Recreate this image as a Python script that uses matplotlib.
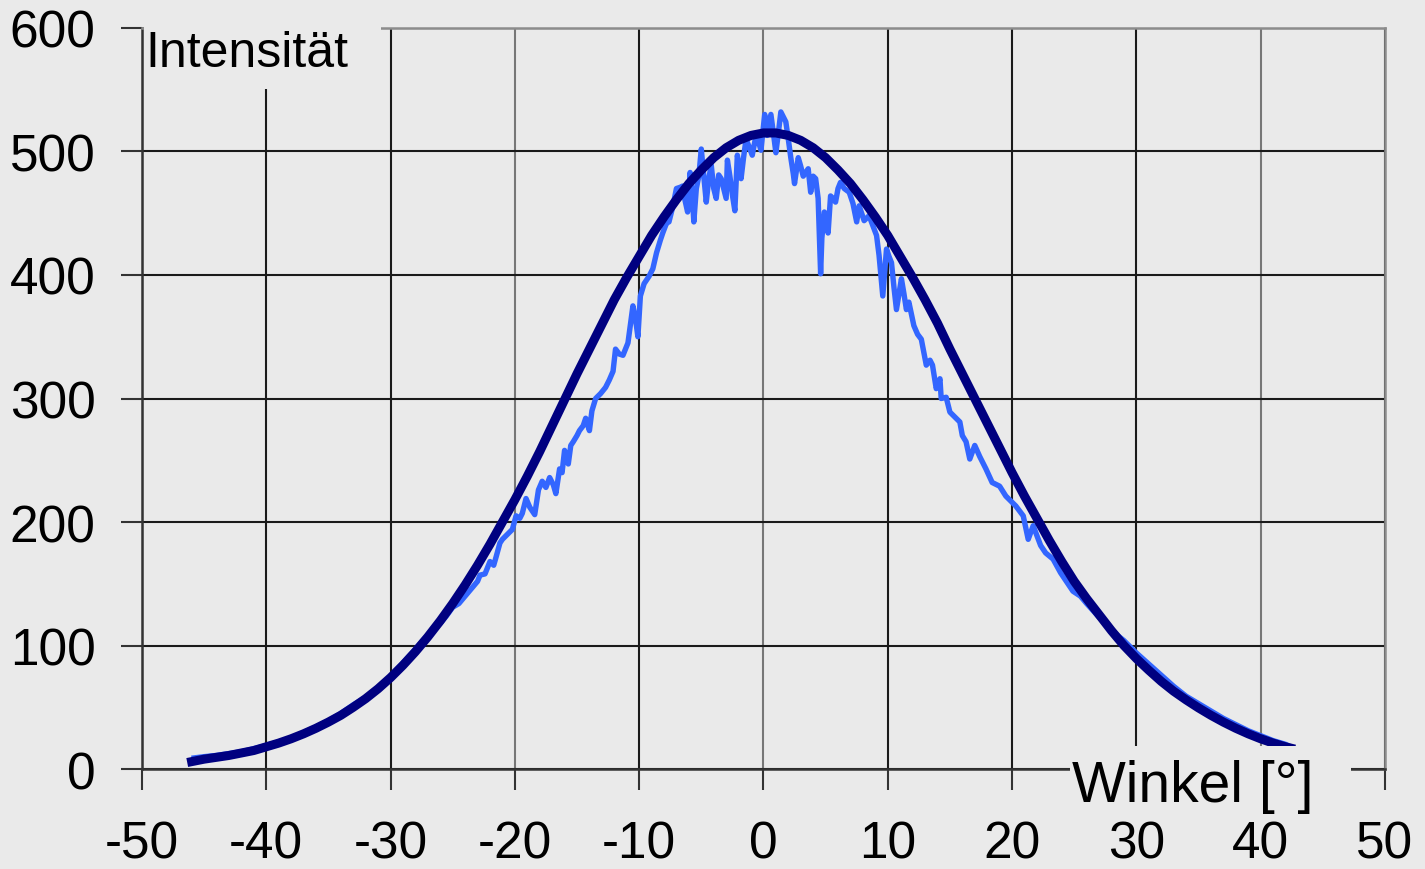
import matplotlib
matplotlib.use("Agg")
import matplotlib.pyplot as plt
from matplotlib.patches import Rectangle

meas_x = [-45.8, -45.0, -44.0, -43.0, -42.0, -41.0, -40.0, -39.0, -38.0, -37.0,
          -36.0, -35.0, -34.0, -33.0, -32.0, -31.0, -30.0, -29.0, -28.0, -27.5,
          -27.0, -26.5, -26.0, -25.5, -25.0, -24.5, -24.0, -23.5, -23.0, -22.8,
          -22.4, -22.0, -21.7, -21.5, -21.2, -21.0, -20.6, -20.2, -19.9, -19.6,
          -19.4, -19.1, -18.8, -18.4, -18.1, -17.8, -17.5, -17.2, -16.9, -16.7,
          -16.4, -16.2, -16.0, -15.7, -15.5, -15.3, -15.0, -14.8, -14.5, -14.3,
          -14.0, -13.8, -13.5, -13.1, -12.7, -12.4, -12.1, -11.9, -11.6, -11.3,
          -10.9, -10.7, -10.5, -10.3, -10.1, -9.9, -9.6, -9.2, -8.9, -8.6,
          -8.3, -8.1, -7.8, -7.6, -7.3, -7.0, -6.7, -6.5, -6.3, -6.1,
          -5.9, -5.7, -5.6, -5.4, -5.2, -5.0, -4.8, -4.6, -4.4, -4.2,
          -4.0, -3.8, -3.6, -3.4, -3.2, -3.0, -2.9, -2.7, -2.5, -2.3,
          -2.1, -1.9, -1.8, -1.6, -1.4, -1.2, -0.9, -0.6, -0.4, -0.2,
          0.1, 0.2, 0.3, 0.6, 0.8, 1.0, 1.2, 1.4, 1.6, 1.8,
          2.0, 2.2, 2.4, 2.5, 2.8, 3.0, 3.2, 3.4, 3.6, 3.8,
          4.0, 4.2, 4.4, 4.6, 4.7, 4.9, 5.2, 5.4, 5.6, 5.8,
          6.0, 6.2, 6.5, 6.9, 7.2, 7.5, 7.7, 8.1, 8.5, 8.8,
          9.1, 9.3, 9.6, 9.9, 10.1, 10.3, 10.5, 10.7, 11.1, 11.3,
          11.5, 11.7, 12.1, 12.4, 12.7, 13.1, 13.4, 13.6, 13.9, 14.2,
          14.3, 14.7, 15.0, 15.4, 15.8, 16.0, 16.3, 16.6, 17.0, 17.4,
          17.9, 18.4, 19.0, 19.5, 20.3, 20.9, 21.3, 21.7, 22.3, 22.7,
          23.3, 23.9, 24.9, 25.5, 26.0, 27.0, 28.0, 28.5, 29.0, 30.0,
          31.0, 32.0, 33.0, 34.0, 35.0, 36.0, 37.0, 38.0, 39.0, 40.0,
          41.0, 42.0, 42.6]
meas_y = [9, 10, 11, 12.5, 14, 16.5, 19, 22, 25, 29.5,
          34, 39, 45, 52, 58, 66, 75, 86, 97, 103,
          108, 113, 118, 124, 131, 134, 140, 146, 152, 157,
          158, 168, 165, 172, 183, 186, 190, 194, 205, 203,
          207, 219, 212, 206, 226, 233, 228, 236, 230, 223,
          243, 240, 258, 247, 262, 265, 270, 274, 278, 284,
          274, 290, 300, 304, 309, 315, 322, 340, 336, 335,
          345, 360, 375, 365, 350, 383, 393, 399, 405, 418,
          428, 434, 442, 443, 455, 470, 471, 472, 460, 451,
          483, 460, 443, 470, 480, 502, 480, 459, 478, 489,
          470, 462, 481, 478, 470, 462, 493, 480, 465, 452,
          497, 485, 478, 495, 510, 505, 497, 513, 508, 501,
          530, 520, 513, 530, 515, 499, 515, 532, 528, 524,
          510, 495, 482, 474, 495, 488, 480, 483, 486, 467,
          480, 478, 462, 401, 430, 451, 434, 464, 462, 459,
          470, 475, 470, 467, 458, 443, 456, 444, 448, 440,
          432, 416, 383, 421, 415, 410, 390, 372, 397, 385,
          372, 378, 359, 352, 348, 327, 331, 327, 308, 316,
          300, 301, 289, 285, 281, 270, 265, 251, 262, 253,
          243, 232, 229, 221, 213, 205, 186, 197, 181, 175,
          170, 159, 144, 140, 134, 123, 113, 108, 104, 94,
          85, 76, 67, 59, 53, 47, 41, 36, 31, 27,
          23, 20, 17]

# fitted curve (dark blue)
fit_x = [-46, -45, -44, -43, -42, -41, -40, -39, -38, -37, -36, -35, -34, -33,
         -32, -31, -30, -29, -28, -27, -26, -25, -24, -23, -22, -21, -20, -19,
         -18, -17, -16, -15, -14, -13, -12, -11, -10, -9, -8, -7, -6, -5, -4,
         -3, -2, -1, 0, 1, 2, 3, 4, 5, 6, 7, 8, 9, 10, 11, 12, 13, 14, 15, 16,
         17, 18, 19, 20, 21, 22, 23, 24, 25, 26, 27, 28, 29, 30, 31, 32, 33,
         34, 35, 36, 37, 38, 39, 40, 41, 42, 42.4]
fit_y = [6, 8, 9.5, 11, 13, 15, 18, 21, 24.5, 28.5, 33, 38, 43.5, 50,
         57, 65, 74, 84, 95, 107, 120, 134, 149, 165, 182, 200, 218, 237,
         257, 278, 299, 320, 340, 360, 380, 398, 415, 432, 447, 461, 474, 485, 495,
         503, 509, 513, 515, 515, 513, 509, 503, 495, 485, 474, 461, 447, 432, 415,
         398, 380, 361, 340, 320, 300, 280, 260, 240, 221, 203, 185, 168, 152, 138,
         125, 112, 100, 89.5, 80, 71, 63, 56, 49.5, 43.5, 38, 33, 28.5, 24.5,
         21, 18, 17]

x_ticks = [-50, -40, -30, -20, -10, 0, 10, 20, 30, 40, 50]
y_ticks = [0, 100, 200, 300, 400, 500, 600]

BG = "#eaeaea"
plt.rcParams["font.family"] = ["Liberation Sans", "DejaVu Sans"]

fig = plt.figure(figsize=(14.25, 8.7), dpi=100, facecolor=BG)
ax = fig.add_axes([0.0996, 0.1149, 0.8723, 0.8518], facecolor=BG)

ax.plot(meas_x, meas_y, color="#3366ff", lw=3.9, zorder=3, solid_joinstyle="round")
ax.plot(fit_x, fit_y, color="#000080", lw=6.5, zorder=4, solid_joinstyle="round")

ax.set_xlim(-50, 50)
ax.set_ylim(0, 600)
ax.set_xticks(x_ticks)
ax.set_yticks(y_ticks)
ax.set_xticklabels([str(t) for t in x_ticks])
ax.tick_params(axis="both", labelsize=37, length=15, width=1.5, color="#333333")
ax.tick_params(axis="x", pad=21)
ax.tick_params(axis="y", pad=18.5)

ax.grid(True, color="#1a1a1a", lw=1.5, zorder=1)
for line, t in zip(ax.get_xgridlines(), x_ticks):
    if t in (-20, 0, 40):
        line.set_color("#777777")

ax.spines["left"].set_color("#333333")
ax.spines["bottom"].set_color("#333333")
ax.spines["top"].set_color("#8c8c8c")
ax.spines["right"].set_color("#8c8c8c")
for s in ax.spines.values():
    s.set_linewidth(1.8)

# label boxes that hide the grid behind the axis titles
ax.add_patch(Rectangle((0.002, 0.918), 0.19, 0.09, transform=ax.transAxes,
                       facecolor=BG, edgecolor="none", zorder=5, clip_on=False))
ax.text(0.003, 0.949, "Intensität", transform=ax.transAxes, fontsize=36,
        ha="left", va="baseline", zorder=6)

ax.add_patch(Rectangle((0.7466, -0.055), 0.226, 0.086, transform=ax.transAxes,
                       facecolor=BG, edgecolor="none", zorder=5, clip_on=False))
ax.text(0.748, -0.043, "Winkel [°]", transform=ax.transAxes, fontsize=41,
        ha="left", va="baseline", zorder=6)

fig.savefig("out.png", dpi=100, facecolor=BG)
